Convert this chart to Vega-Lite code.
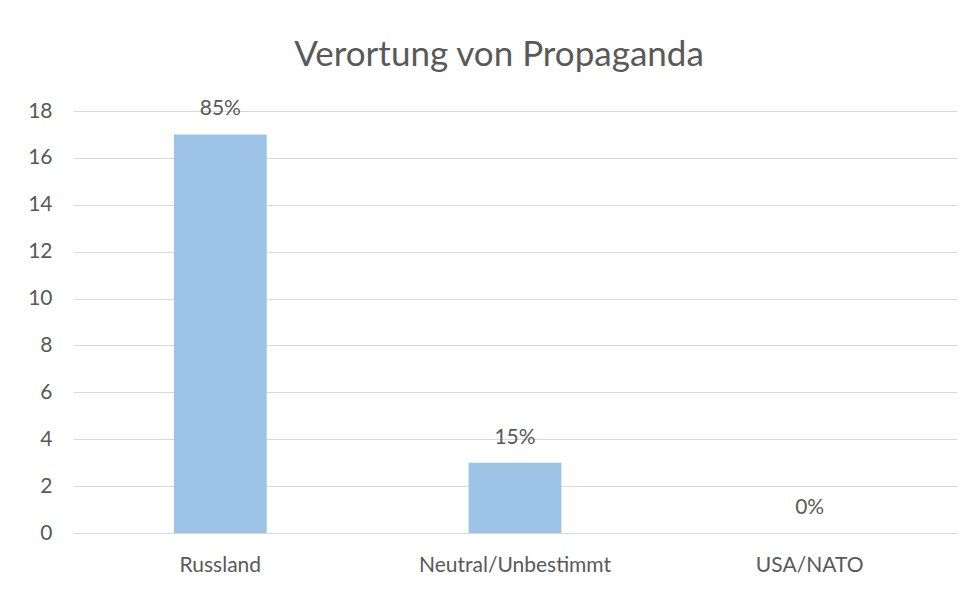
{
  "$schema": "https://vega.github.io/schema/vega-lite/v6.json",
  "autosize": "none",
  "width": 884,
  "height": 422,
  "padding": {"left": 73, "top": 111, "right": 19, "bottom": 58},
  "background": "white",
  "title": {
    "text": "Verortung von Propaganda",
    "font": "Lato",
    "fontSize": 35,
    "fontWeight": "normal",
    "color": "#595959",
    "anchor": "middle",
    "dx": -16,
    "offset": 25
  },
  "data": {
    "values": [
      {"kategorie": "Russland", "anzahl": 17, "anteil": "85%"},
      {"kategorie": "Neutral/Unbestimmt", "anzahl": 3, "anteil": "15%"},
      {"kategorie": "USA/NATO", "anzahl": 0, "anteil": "0%"}
    ]
  },
  "encoding": {
    "x": {
      "field": "kategorie",
      "type": "nominal",
      "sort": null,
      "scale": {"paddingInner": 0.685, "paddingOuter": 0.3425},
      "axis": {
        "title": null,
        "labelAngle": 0,
        "labelFont": "Lato",
        "labelFontSize": 21,
        "labelColor": "#595959",
        "labelPadding": 21,
        "labelLimit": 400,
        "domainColor": "#d9d9d9",
        "domainWidth": 1,
        "ticks": false
      }
    },
    "y": {
      "field": "anzahl",
      "type": "quantitative",
      "scale": {"domain": [0, 18]},
      "axis": {
        "title": null,
        "values": [0, 2, 4, 6, 8, 10, 12, 14, 16, 18],
        "labelFont": "Lato",
        "labelFontSize": 21,
        "labelColor": "#595959",
        "labelPadding": 21,
        "domain": false,
        "ticks": false,
        "gridColor": "#d9d9d9",
        "gridWidth": 1
      }
    }
  },
  "layer": [
    {
      "mark": {"type": "bar", "fill": "#9dc3e6"}
    },
    {
      "mark": {"type": "text", "dy": -25, "font": "Lato", "fontSize": 21, "color": "#595959"},
      "encoding": {
        "text": {"field": "anteil"},
        "y": {"field": "anzahl", "type": "quantitative", "scale": {"domain": [0, 18]}}
      }
    }
  ],
  "config": {"view": {"stroke": null}}
}
